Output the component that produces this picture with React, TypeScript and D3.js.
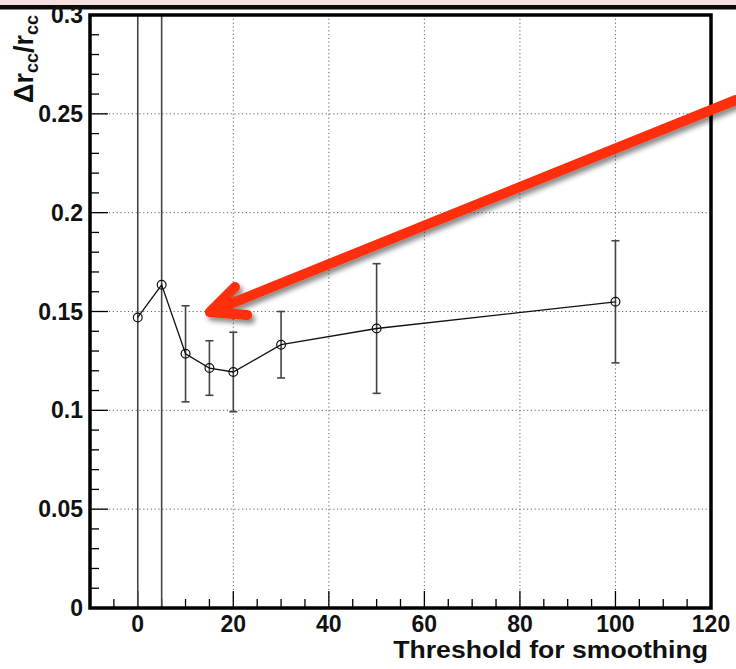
import React from "react";
import * as d3 from "d3";

const xs = [0, 5, 10, 15, 20, 30, 50, 100];
const ys = [0.147, 0.1635, 0.1286, 0.1214, 0.1194, 0.1332, 0.1414, 0.1549];
const errs = [0.5, 0.5, 0.0243, 0.0138, 0.0201, 0.0168, 0.0328, 0.0309];
const xTickLabels = ["0", "20", "40", "60", "80", "100", "120"];
const yTickLabels = ["0", "0.05", "0.1", "0.15", "0.2", "0.25", "0.3"];
// annotation arrow in data coordinates: tail, tip, wing1, wing2
const arrowX = [125.2, 15.1, 20.35, 22.9];
const arrowY = [0.257, 0.1497, 0.1624, 0.1482];

const W = 736;
const H = 669;
const L = 90, R = 711, T = 15, B = 608;

export default function App() {
  const x = d3.scaleLinear().domain([-10, 120]).range([L, R]);
  const y = d3.scaleLinear().domain([0, 0.3]).range([B, T]);
  const font = "'Liberation Sans', Arial, Helvetica, sans-serif";

  const xMajor = d3.range(0, 121, 20);
  const xMinor = d3.range(-5, 120, 5).filter((v) => v % 20 !== 0);
  const yMajor = d3.range(0, 7).map((i) => i * 0.05);
  const yMinor = d3.range(1, 30).map((i) => i * 0.01).filter((_, i) => (i + 1) % 5 !== 0);

  const line = d3.line<number>().x((_, i) => x(xs[i])).y((d) => y(d));

  const tail = [x(arrowX[0]), y(arrowY[0])];
  const tip = [x(arrowX[1]), y(arrowY[1])];
  const w1 = [x(arrowX[2]), y(arrowY[2])];
  const w2 = [x(arrowX[3]), y(arrowY[3])];
  const arrowPath = `M${tail[0]},${tail[1]}L${tip[0]},${tip[1]}M${w1[0]},${w1[1]}L${tip[0]},${tip[1]}L${w2[0]},${w2[1]}`;

  return (
    <svg
      width={W}
      height={H}
      style={{ position: "absolute", left: 0, top: 0, background: "#fff" }}
      fontFamily={font}
    >
      <defs>
        <clipPath id="plot">
          <rect x={L} y={T} width={R - L} height={B - T} />
        </clipPath>
        <filter id="shadow" x="-10%" y="-20%" width="130%" height="160%">
          <feDropShadow dx="3" dy="4" stdDeviation="2.5" floodColor="#000" floodOpacity="0.45" />
        </filter>
      </defs>
      <rect x={0} y={0} width={W} height={H} fill="#fff" />
      <rect x={0} y={0} width={W} height={5} fill="#f4e1df" />
      <rect x={0} y={5} width={W} height={4.5} fill="#0a0a0a" />

      {/* grid */}
      <g stroke="#666" strokeWidth={1} strokeDasharray="1.2,2.6">
        {xMajor.filter((v) => v > 0 && v < 120).map((v) => (
          <line key={"gx" + v} x1={x(v)} x2={x(v)} y1={T} y2={B} />
        ))}
        {yMajor.filter((v) => v > 0 && v < 0.3).map((v) => (
          <line key={"gy" + v} x1={L} x2={R} y1={y(v)} y2={y(v)} />
        ))}
      </g>

      {/* ticks */}
      <g stroke="#000" strokeWidth={1.3}>
        {xMajor.map((v) => (
          <line key={"tx" + v} x1={x(v)} x2={x(v)} y1={B} y2={B - 17} />
        ))}
        {xMinor.map((v) => (
          <line key={"tmx" + v} x1={x(v)} x2={x(v)} y1={B} y2={B - 9} />
        ))}
        {yMajor.map((v) => (
          <line key={"ty" + v} x1={L} x2={L + 18} y1={y(v)} y2={y(v)} />
        ))}
        {yMinor.map((v) => (
          <line key={"tmy" + v} x1={L} x2={L + 9} y1={y(v)} y2={y(v)} />
        ))}
      </g>

      {/* data */}
      <g clipPath="url(#plot)">
        <g stroke="#444" strokeWidth={1.6}>
          {xs.map((xv, i) => (
            <g key={"e" + i}>
              <line x1={x(xv)} x2={x(xv)} y1={y(ys[i] - errs[i])} y2={y(ys[i] + errs[i])} />
              <line x1={x(xv) - 4} x2={x(xv) + 4} y1={y(ys[i] - errs[i])} y2={y(ys[i] - errs[i])} />
              <line x1={x(xv) - 4} x2={x(xv) + 4} y1={y(ys[i] + errs[i])} y2={y(ys[i] + errs[i])} />
            </g>
          ))}
        </g>
        <path d={line(ys) || ""} fill="none" stroke="#111" strokeWidth={1.3} />
        {xs.map((xv, i) => (
          <circle key={"c" + i} cx={x(xv)} cy={y(ys[i])} r={4.4} fill="none" stroke="#111" strokeWidth={1.2} />
        ))}
      </g>

      {/* frame */}
      <rect x={L} y={T} width={R - L} height={B - T} fill="none" stroke="#000" strokeWidth={3.5} />

      {/* tick labels */}
      <g fontWeight="bold" fontSize={23} fill="#111">
        {xMajor.map((v, i) => (
          <text key={"lx" + v} x={x(v)} y={632} textAnchor="middle">{xTickLabels[i]}</text>
        ))}
        {yMajor.map((v, i) => (
          <text key={"ly" + v} x={83} y={y(v) + 8} textAnchor="end">{yTickLabels[i]}</text>
        ))}
      </g>

      {/* axis titles */}
      <text
        transform="translate(708,658) scale(1.157,1)"
        textAnchor="end"
        fontWeight="bold"
        fontSize={23}
        fill="#111"
      >
        Threshold for smoothing
      </text>
      <text
        transform={`translate(33,15) rotate(-90)`}
        textAnchor="end"
        fontWeight="bold"
        fontSize={27}
        fill="#111"
      >
        Δr<tspan fontSize={18} dy={5}>cc</tspan>
        <tspan dy={-5}>/r</tspan>
        <tspan fontSize={18} dy={5}>cc</tspan>
      </text>

      {/* arrow annotation */}
      <path
        d={arrowPath}
        fill="none"
        stroke="#ff2d0a"
        strokeWidth={10}
        strokeLinecap="round"
        strokeLinejoin="round"
        filter="url(#shadow)"
      />
    </svg>
  );
}
